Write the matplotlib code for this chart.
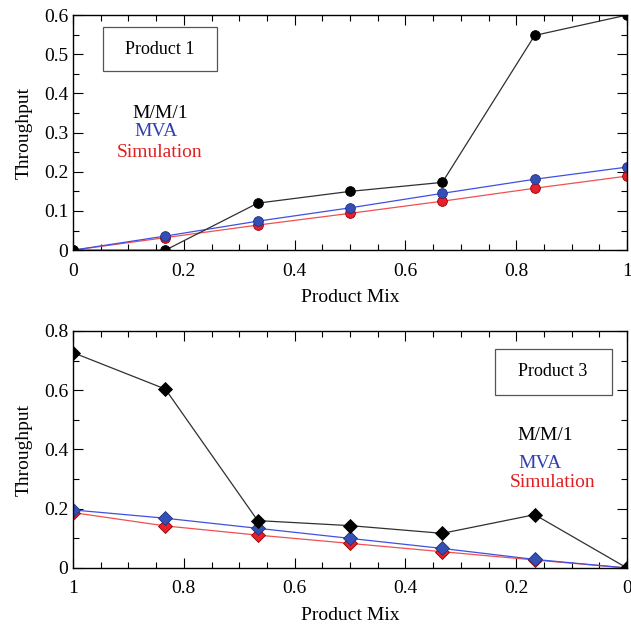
import matplotlib
matplotlib.use("Agg")
import matplotlib.pyplot as plt
from matplotlib.patches import Rectangle
from matplotlib.ticker import MultipleLocator, FuncFormatter

plt.rcParams['font.family'] = ['Liberation Serif', 'DejaVu Serif']

# Product 1 data
mix1 = [0, 1/6, 1/3, 1/2, 2/3, 5/6, 1]
mm1_p1 = [0, 0.0, 0.12, 0.15, 0.173, 0.548, 0.60]
mva_p1 = [0, 0.036, 0.074, 0.108, 0.145, 0.181, 0.212]
sim_p1 = [0, 0.032, 0.064, 0.094, 0.125, 0.158, 0.189]

# Product 3 data
mix3 = [1, 5/6, 2/3, 1/2, 1/3, 1/6, 0]
mm1_p3 = [0.727, 0.604, 0.160, 0.143, 0.117, 0.180, 0.0]
mva_p3 = [0.196, 0.168, 0.134, 0.100, 0.066, 0.029, 0.0]
sim_p3 = [0.187, 0.142, 0.111, 0.083, 0.055, 0.027, 0.0]

fig = plt.figure(figsize=(6.31, 6.27), dpi=100)
ax1 = fig.add_axes([0.1157, 0.601, 0.878, 0.375])
ax2 = fig.add_axes([0.1157, 0.0941, 0.878, 0.378])

cols = {'sim': '#e8202a', 'mva': '#3450b4', 'mm1': 'black'}
lcols = {'sim': '#f05050', 'mva': '#4050e0', 'mm1': '#303030'}

def draw(ax, x, sim, mva, mm1, marker, ms):
    ax.plot(x, sim, color=lcols['sim'], lw=0.9, marker=marker, ms=ms,
            mfc=cols['sim'], mec='#900000', mew=0.6, zorder=3)
    ax.plot(x, mva, color=lcols['mva'], lw=0.9, marker=marker, ms=ms,
            mfc=cols['mva'], mec='#203080', mew=0.6, zorder=4)
    ax.plot(x, mm1, color=lcols['mm1'], lw=0.9, marker=marker, ms=ms,
            mfc='black', mec='black', mew=0.6, zorder=5)

draw(ax1, mix1, sim_p1, mva_p1, mm1_p1, 'o', 7)
draw(ax2, mix3, sim_p3, mva_p3, mm1_p3, 'D', 7)

ax1.set_xlim(0, 1)
ax1.set_ylim(0, 0.6)
ax1.xaxis.set_major_locator(MultipleLocator(0.2))
ax1.xaxis.set_minor_locator(MultipleLocator(0.05))
ax1.yaxis.set_major_locator(MultipleLocator(0.1))
ax1.yaxis.set_minor_locator(MultipleLocator(0.05))

ax2.set_xlim(1, 0)
ax2.set_ylim(0, 0.8)
ax2.xaxis.set_major_locator(MultipleLocator(0.2))
ax2.xaxis.set_minor_locator(MultipleLocator(0.05))
ax2.yaxis.set_major_locator(MultipleLocator(0.2))
ax2.yaxis.set_minor_locator(MultipleLocator(0.1))

def fmt(v, pos):
    if abs(v) < 1e-9:
        return '0'
    if abs(v - 1) < 1e-9:
        return '1'
    return '%.1f' % v

for ax in (ax1, ax2):
    ax.xaxis.set_major_formatter(FuncFormatter(fmt))
    ax.yaxis.set_major_formatter(FuncFormatter(fmt))
    ax.tick_params(which='both', direction='in', top=True, right=True, labelsize=14)
    ax.tick_params(which='major', length=7, width=0.8)
    ax.tick_params(which='minor', length=4, width=0.8)
    ax.tick_params(axis='x', which='major', pad=9)
    ax.set_xlabel('Product Mix', fontsize=14, labelpad=7)
    ax.set_ylabel('Throughput', fontsize=14, labelpad=8)
    for sp in ax.spines.values():
        sp.set_linewidth(1.0)
        sp.set_zorder(6)

# annotations
ax1.add_patch(Rectangle((0.054, 0.762), 0.206, 0.187, transform=ax1.transAxes,
                        fill=False, ec='#555555', lw=0.9))
ax1.text(0.157, 0.855, 'Product 1', transform=ax1.transAxes, ha='center', va='center', fontsize=13)
ax1.text(0.157, 0.583, 'M/M/1', transform=ax1.transAxes, ha='center', va='center', fontsize=14, color='black')
ax1.text(0.150, 0.506, 'MVA', transform=ax1.transAxes, ha='center', va='center', fontsize=14, color='#3040b0')
ax1.text(0.157, 0.417, 'Simulation', transform=ax1.transAxes, ha='center', va='center', fontsize=14, color='#e02020')

ax2.add_patch(Rectangle((0.762, 0.73), 0.211, 0.194, transform=ax2.transAxes,
                        fill=False, ec='#555555', lw=0.9))
ax2.text(0.866, 0.827, 'Product 3', transform=ax2.transAxes, ha='center', va='center', fontsize=13)
ax2.text(0.852, 0.557, 'M/M/1', transform=ax2.transAxes, ha='center', va='center', fontsize=14, color='black')
ax2.text(0.843, 0.443, 'MVA', transform=ax2.transAxes, ha='center', va='center', fontsize=14, color='#3040b0')
ax2.text(0.865, 0.359, 'Simulation', transform=ax2.transAxes, ha='center', va='center', fontsize=14, color='#e02020')

fig.savefig('out.png', dpi=100)
